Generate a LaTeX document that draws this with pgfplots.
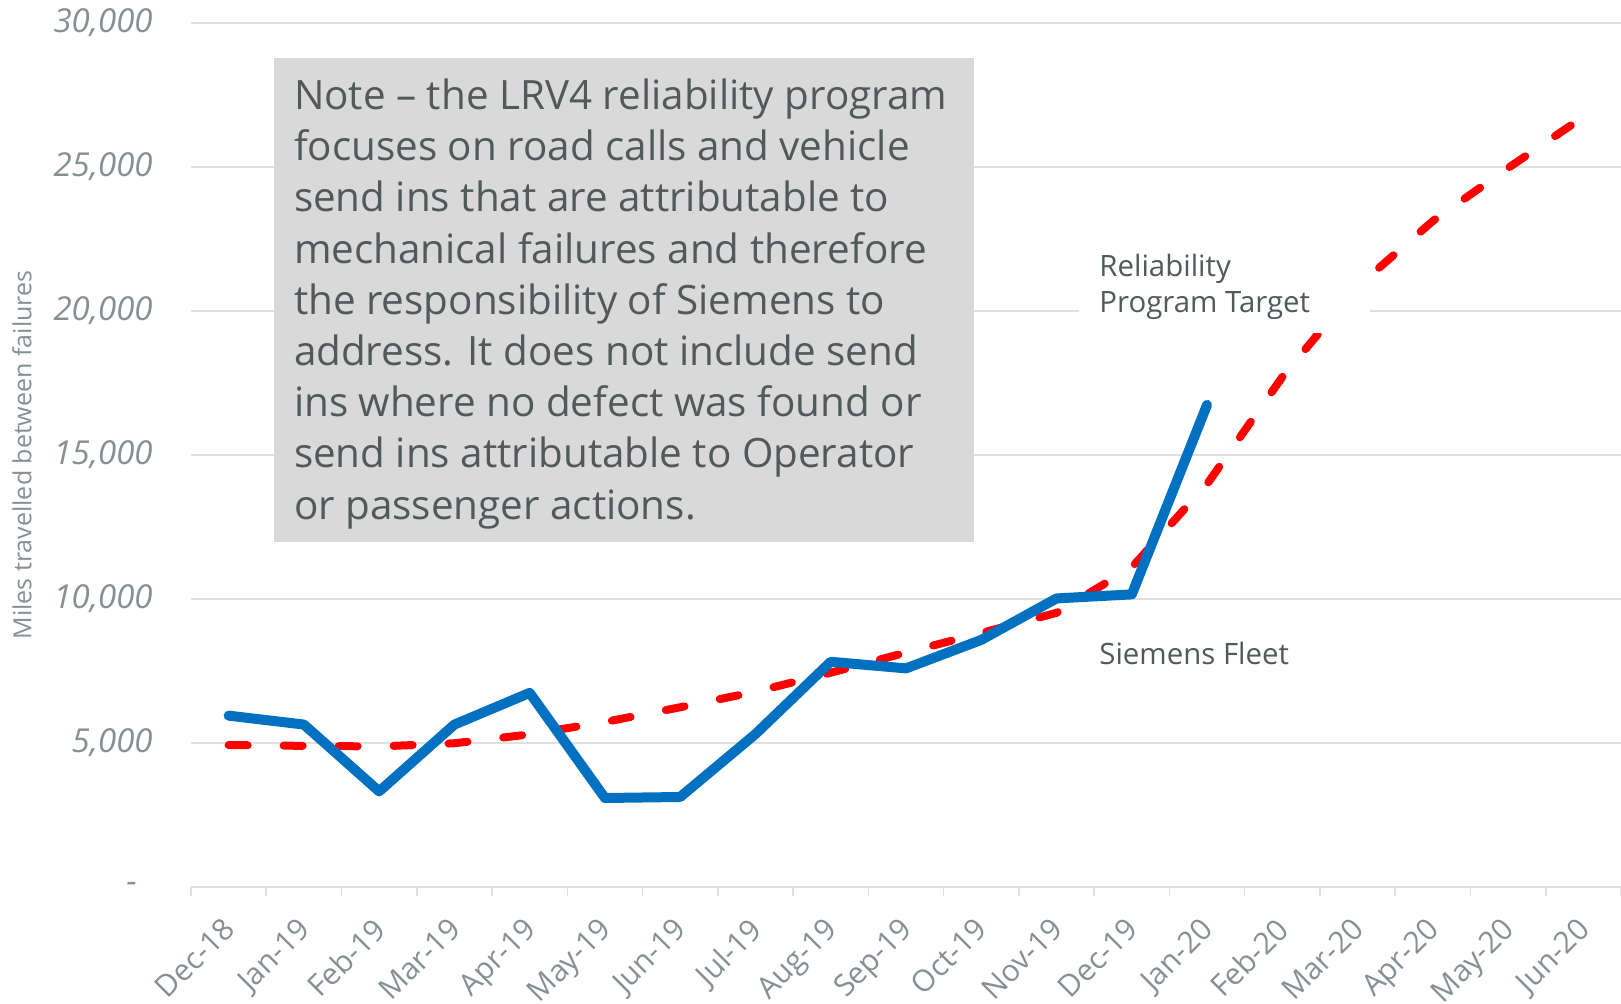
\documentclass[border=0pt]{standalone}
\usepackage{fontspec}
\setmainfont{Open Sans}
\usepackage{pgfplots}
\pgfplotsset{compat=1.18}
\definecolor{tickgray}{RGB}{134,144,146}
\definecolor{txtgray}{RGB}{82,89,91}
\definecolor{gridgray}{RGB}{224,224,224}
\definecolor{boxgray}{RGB}{217,217,217}
\definecolor{fleetblue}{RGB}{0,112,192}
\definecolor{targetred}{RGB}{255,0,0}
\begin{document}
\begin{tikzpicture}
\begin{axis}[
  at={(0,0)}, anchor=south west,
  scale only axis, width=715pt, height=432pt,
  xmin=-0.5, xmax=18.5, ymin=0, ymax=30000,
  axis x line*=bottom, axis y line*=left,
  x axis line style={draw=gridgray, line width=0.8pt, -},
  y axis line style={draw=none, -},
  xtick={0,...,18},
  xticklabels={Dec-18,Jan-19,Feb-19,Mar-19,Apr-19,May-19,Jun-19,Jul-19,Aug-19,Sep-19,Oct-19,Nov-19,Dec-19,Jan-20,Feb-20,Mar-20,Apr-20,May-20,Jun-20},
  major x tick style={draw=none},
  minor xtick={-0.5,0.5,...,18.5},
  minor x tick style={draw=gridgray, line width=0.8pt},
  minor tick length=4.5pt,
  xtick align=outside,
  ytick={0,5000,...,30000},
  yticklabels={-\kern8pt,{5,000},{10,000},{15,000},{20,000},{25,000},{30,000}},
  ytick style={draw=none},
  ymajorgrids, major grid style={draw=gridgray, line width=0.8pt},
  xticklabel style={rotate=45, anchor=north east, inner sep=0pt, font=\fontsize{15}{17}\selectfont, text=tickgray, xshift=-9.7pt, yshift=-4.3pt},
  yticklabel style={anchor=east, inner sep=0pt, xshift=-19pt, font=\fontsize{16.5}{19}\selectfont\itshape, text=tickgray},
  clip=false,
]
\addplot[targetred, line width=4pt, line cap=round, line join=round, dash pattern=on 9.5pt off 18pt] coordinates {
(0,4930) (1,4900) (2,4880) (3,4990) (4,5300) (5,5730) (6,6240) (7,6780) (8,7440) (9,8140) (10,8820) (11,9520) (12,11100) (13,13990) (14,17710) (15,20850) (16,23125) (17,24965) (18,26740)};
\addplot[fleetblue, line width=5pt, line cap=round, line join=round] coordinates {
(0,5950) (1,5640) (2,3320) (3,5640) (4,6740) (5,3090) (6,3125) (7,5310) (8,7820) (9,7590) (10,8580) (11,10020) (12,10160) (13,16740)};
\end{axis}
\fill[white] (444pt,277pt) rectangle (589.5pt,326pt);
\fill[boxgray] (41.5pt,172.5pt) rectangle (391.5pt,414.5pt);
\begin{scope}[every node/.style={anchor=base west, inner sep=0pt, text=txtgray, font=\fontsize{20.2}{24}\selectfont}]
\node at (51.3pt,388.7pt) {Note – the LRV4 reliability program};
\node at (51.3pt,363.1pt) {focuses on road calls and vehicle};
\node at (51.3pt,337.5pt) {send ins that are attributable to};
\node at (51.3pt,311.9pt) {mechanical failures and therefore};
\node at (51.3pt,286.3pt) {the responsibility of Siemens to};
\node at (51.3pt,260.7pt) {address. It does not include send};
\node at (51.3pt,235.1pt) {ins where no defect was found or};
\node at (51.3pt,209.5pt) {send ins attributable to Operator};
\node at (51.3pt,183.9pt) {or passenger actions.};
\end{scope}
\begin{scope}[every node/.style={anchor=base west, inner sep=0pt, text=txtgray, font=\fontsize{14.7}{17}\selectfont}]
\node at (454pt,305pt) {Reliability};
\node at (454pt,287pt) {Program Target};
\node at (454pt,111pt) {Siemens Fleet};
\end{scope}
\node[rotate=90, inner sep=0pt, text=tickgray, font=\fontsize{12.5}{15}\selectfont] at (-84.5pt,216pt) {Miles travelled between failures};
\pgfresetboundingbox
\path[use as bounding box] (-95.5pt,-58.5pt) rectangle (715pt,443.5pt);
\end{tikzpicture}
\end{document}
